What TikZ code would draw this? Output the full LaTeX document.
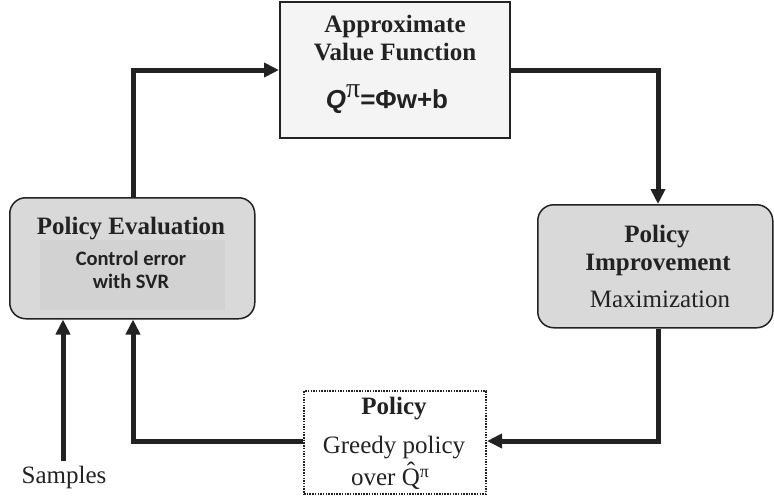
\documentclass[tikz,border=0pt]{standalone}
\usepackage{fontspec}
\setmainfont{Liberation Serif}
\newfontfamily\sansbold{Liberation Sans}
\newfontfamily\calib{Carlito}
\usetikzlibrary{arrows.meta}
\definecolor{ink}{HTML}{222222}
\definecolor{boxgray}{HTML}{D9D9D9}
\definecolor{innergray}{HTML}{D2D2D2}
\definecolor{topfill}{HTML}{F4F4F4}
\begin{document}
\begin{tikzpicture}[x=1pt,y=-1pt,
  flow/.style={draw=ink,line width=5pt,-{Triangle[length=15pt,width=14pt]},line join=miter},
  block/.style={draw=ink,line width=1.5pt},
  title/.style={font=\fontsize{25}{28}\selectfont\bfseries,text=ink,anchor=base,inner sep=0pt},
  plain/.style={font=\fontsize{25}{28}\selectfont,text=ink,anchor=base,inner sep=0pt}]
\useasboundingbox (0,0) rectangle (774,498);

% boxes
\node[block,fill=topfill,minimum width=230pt,minimum height=136pt,anchor=north west] (avf) at (279,1) {};
\node[block,fill=boxgray,rounded corners=16pt,minimum width=245pt,minimum height=121pt,anchor=north west] (eval) at (9,197) {};
\node[fill=innergray,minimum width=185pt,minimum height=70pt,anchor=north west,inner sep=0pt] (evalin) at (40,240) {};
\node[block,fill=boxgray,rounded corners=16pt,minimum width=235pt,minimum height=123pt,anchor=north west] (impr) at (537,204) {};
\node[draw=ink,line width=2pt,dash pattern=on 1.5pt off 1.2pt,fill=white,minimum width=182pt,minimum height=103pt,anchor=north west] (pol) at (303,390) {};

% texts
\node[title] (t1) at (395,32) {Approximate};
\node[title] (t2) at (395,60) {Value Function};
\node[text=ink,anchor=base,inner sep=0pt,font=\sansbold\fontsize{26}{28}\selectfont\bfseries] (t3) at (387,108) {\textit{Q}\raisebox{11pt}{\rmfamily\mdseries\fontsize{28}{28}\selectfont π}=Φw+b};

\node[title] (e1) at (131,234) {Policy Evaluation};
\node[text=ink,font=\calib\fontsize{20.5}{23}\selectfont\bfseries,anchor=base,inner sep=0pt] (e2) at (131,265) {Control error};
\node[text=ink,font=\calib\fontsize{20.5}{23}\selectfont\bfseries,anchor=base,inner sep=0pt] (e3) at (131,288) {with SVR};

\node[title] (i1) at (657,242) {Policy};
\node[title] (i2) at (658,270) {Improvement};
\node[plain] (i3) at (660,307) {Maximization};

\node[title] (p1) at (394,414) {Policy};
\node[plain] (p2) at (394,453) {Greedy policy};
\node[plain] (p3) at (390,485) {over \^{Q}\raisebox{8pt}{\fontsize{18}{18}\selectfont π}};

\node[plain] (samp) at (64,483) {Samples};

% connectors
\coordinate (c1) at (133,70);
\coordinate (c2) at (658,70);
\coordinate (c3) at (658,441);
\coordinate (c4) at (133,441);
\coordinate (s0) at (63,461);
\draw[flow] (eval.north -| c1) -- (c1) -- (avf.west |- c1);
\draw[flow] (avf.east |- c2) -- (c2) -- (impr.north -| c2);
\draw[flow] (impr.south -| c3) -- (c3) -- (pol.east |- c3);
\draw[flow] (pol.west |- c4) -- (c4) -- (eval.south -| c4);
\draw[flow] (s0) -- (eval.south -| s0);
\end{tikzpicture}
\end{document}
